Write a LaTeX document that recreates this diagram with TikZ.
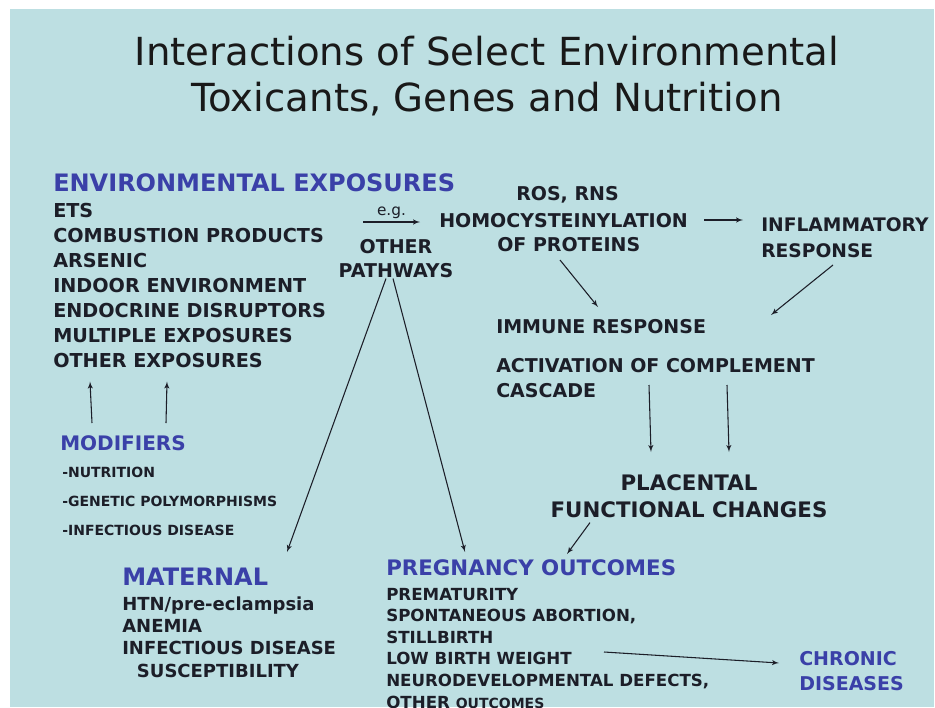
\documentclass[tikz,border=0pt]{standalone}
\usepackage{fontspec}
\setmainfont{DejaVu Sans}
\usepackage{tikz}
\usetikzlibrary{arrows}
\usetikzlibrary{calc}
\definecolor{bgblue}{RGB}{189,223,226}
\definecolor{hdrblue}{RGB}{58,64,168}
\definecolor{ink}{RGB}{28,30,40}
\newcommand{\fsz}[2]{\bfseries\fontsize{#1}{#2}\selectfont}
\tikzstyle{ttl} = [anchor=base, align=center, text=black!90,
    font=\fontsize{29}{34.5}\selectfont, inner sep=0pt]
\tikzstyle{hdr} = [anchor=base west, align=left, text=hdrblue,
    font=\fsz{18}{18}, inner sep=0pt]
\tikzstyle{txt} = [anchor=base west, align=left, text=ink,
    font=\fsz{14.25}{18.75}, inner sep=0pt]
\tikzstyle{link} = [->, draw=ink, line width=0.8pt]

\begin{document}
\begin{tikzpicture}[x=0.75pt, y=-0.75pt, >=latex']
    % the slide itself
    \useasboundingbox (0,0) rectangle (935,707);
    \clip (0,0) rectangle (935,707);
    \fill[bgblue] (10,9) rectangle (934,707);

    % multi-line nodes sit on the baseline of their last line
    \node[ttl] (title) at (487,111) {Interactions of Select Environmental\\Toxicants, Genes and Nutrition};

    % exposures and their modifiers
    \node[hdr] (envexp) at (53,191) {ENVIRONMENTAL EXPOSURES};
    \node[txt, font=\fsz{14.4}{18.75}] (envlist) at (53,367) {ETS\\COMBUSTION PRODUCTS\\ARSENIC\\INDOOR ENVIRONMENT\\ENDOCRINE DISRUPTORS\\MULTIPLE EXPOSURES\\OTHER EXPOSURES};
    \node[hdr, font=\fsz{15}{15}] (modif) at (60,450) {MODIFIERS};
    \node[txt, font=\fsz{10.5}{21.75}] (modlist) at (62,535) {-NUTRITION\\-GENETIC POLYMORPHISMS\\-INFECTIOUS DISEASE};

    % pathways
    \coordinate (egstart) at (363,222);
    \node[txt, anchor=base, align=center, font=\fsz{14.25}{18}] (path) at (396,277) {OTHER\\PATHWAYS};
    \node[txt] (ros) at (516,200) {ROS, RNS};
    \node[txt] (homo) at (439,227) {HOMOCYSTEINYLATION};
    \node[txt] (ofprot) at (497,251) {OF PROTEINS};
    \node[txt, font=\fsz{14}{19.5}] (inflam) at (761,257) {INFLAMMATORY\\RESPONSE};
    \node[txt] (immune) at (496,333) {IMMUNE RESPONSE};
    \node[txt] (activ) at (496,397) {ACTIVATION OF COMPLEMENT\\CASCADE};
    \coordinate (merge) at (771,315);
    \node[txt, anchor=base, align=center, font=\fsz{16}{20.25}] (plac) at (689,517) {PLACENTAL\\FUNCTIONAL CHANGES};

    % outcomes
    \node[hdr] (matern) at (122,585) {MATERNAL};
    \node[txt, font=\fsz{13.5}{16.7}] (matlist) at (122,677) {HTN/pre-eclampsia\\ANEMIA\\INFECTIOUS DISEASE\\\hspace*{11pt}SUSCEPTIBILITY};
    \node[hdr, font=\fsz{16}{16}] (preg) at (386,575) {PREGNANCY OUTCOMES};
    \node[txt, font=\fsz{12.5}{16.2}] (preglist) at (386,708) {PREMATURITY\\SPONTANEOUS ABORTION,\\STILLBIRTH\\LOW BIRTH WEIGHT\\NEURODEVELOPMENTAL DEFECTS,\\OTHER {\fontsize{10.5}{16.2}\selectfont OUTCOMES}};
    \node[hdr, font=\fsz{14.25}{18.75}] (chronic) at (799,690) {CHRONIC\\DISEASES};

    % connectors
    \draw[link] ($(modif.base west)+(32,-27)$) -- ($(envlist.south west)+(37,14)$);
    \draw[link] ($(modif.base west)+(106,-27)$) -- ($(envlist.south west)+(114,14)$);
    \draw[link] (egstart) -- node[above, text=ink, font=\fontsize{11.5}{11.5}\selectfont, inner sep=2pt] (eg) {e.g.} ($(homo.base west)+(-19,-5)$);
    \draw[link] ($(homo.base west)+(265,-7)$) -- ($(inflam.base west)+(-18,-37)$);
    \draw[link] ($(ofprot.base west)+(63,9)$) -- ($(immune.base west)+(102,-26)$);
    \draw[link] ($(inflam.base west)+(72,8)$) -- (merge);
    \draw[link] ($(activ.base west)+(153,-12)$) -- ($(plac.base)+(-38,-65)$);
    \draw[link] ($(activ.base west)+(231,-12)$) -- ($(plac.base)+(40,-65)$);
    \draw[link] ($(plac.south)+(-99,5)$) -- ($(preg.base west)+(181,-21)$);
    \draw[link] ($(path.south)+(-10,1)$) -- ($(matern.base west)+(165,-33)$);
    \draw[link] ($(path.south)+(-3,1)$) -- ($(preg.base west)+(79,-23)$);
    \draw[link] ($(preglist.base west)+(218,-56)$) -- ($(chronic.base west)+(-20,-27)$);
\end{tikzpicture}
\end{document}
